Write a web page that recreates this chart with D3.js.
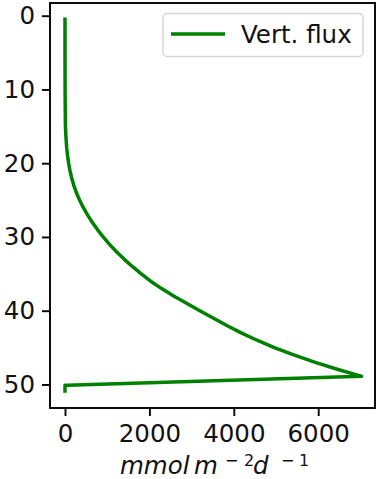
<!DOCTYPE html>
<html>
<head>
<meta charset="utf-8">
<script src="https://cdn.jsdelivr.net/npm/d3@7"></script>
<style>
  html, body { margin: 0; padding: 0; background: #fff; }
  svg { display: block; font-family: "DejaVu Sans", sans-serif; }
</style>
</head>
<body>
<svg id="chart" width="378" height="479"></svg>
<script>
// Depth (m) and vertical flux values
const depth = [0.5, 5, 10, 13, 15, 16, 17, 18, 19, 20, 21, 22, 23, 24, 25, 26, 27, 28, 29, 30, 31, 32, 33, 34, 35, 36, 37, 38, 39, 40, 41, 42, 43, 44, 45, 46, 47, 48, 48.9, 50.1, 50.1, 50.9];
const flux  = [0, 0, 2, 6, 10, 18, 28, 42, 61, 86, 118, 158, 208, 270, 345, 433, 533, 645, 769, 905, 1055, 1220, 1400, 1595, 1807, 2030, 2290, 2575, 2880, 3195, 3510, 3835, 4175, 4550, 4960, 5420, 5930, 6490, 7030, 60, 0, 0];
const xTicks = [0, 2000, 4000, 6000];
const yTicks = [0, 10, 20, 30, 40, 50];
const seriesName = "Vert. flux";

(function () {
const svg = d3.select("#chart");
const mLeft = 50, mRight = 375, mTop = 3, mBottom = 408;
const fs = "24.5px";

const x = d3.scaleLinear().domain([-355.5, 7346]).range([mLeft, mRight]);
const y = d3.scaleLinear().domain([-1.72, 53.19]).range([mTop, mBottom]);

const line = d3.line()
  .x((d, i) => x(flux[i]))
  .y((d, i) => y(depth[i]));

svg.append("path")
  .datum(depth)
  .attr("d", line)
  .attr("fill", "none")
  .attr("stroke", "#008000")
  .attr("stroke-width", 3.5)
  .attr("stroke-linejoin", "round")
  .attr("stroke-linecap", "square");

// axes
const xAxis = d3.axisBottom(x).tickValues(xTicks).tickSize(8).tickPadding(8).tickFormat(d3.format("d"));
const yAxis = d3.axisLeft(y).tickValues(yTicks).tickSize(8).tickPadding(8).tickFormat(d3.format("d"));

const gx = svg.append("g").attr("transform", `translate(0,${mBottom})`).call(xAxis);
const gy = svg.append("g").attr("transform", `translate(${mLeft},0)`).call(yAxis);
[gx, gy].forEach(g => {
  g.select(".domain").remove();
  g.selectAll(".tick line").attr("stroke", "#000").attr("stroke-width", 1.9);
  g.selectAll(".tick text").attr("fill", "#111").style("font-size", fs).style("font-family", "DejaVu Sans");
});
gx.selectAll(".tick text").attr("y", 17).attr("dy", "0.71em");
gy.selectAll(".tick text").attr("x", -15);

// frame
svg.append("rect")
  .attr("x", mLeft).attr("y", mTop)
  .attr("width", mRight - mLeft).attr("height", mBottom - mTop)
  .attr("fill", "none").attr("stroke", "#000").attr("stroke-width", 1.9);

// x label (mathtext-like)
const lab = svg.append("g").attr("fill", "#111");
const piece = (tx, ty, size, italic, s) => lab.append("text")
  .attr("x", tx).attr("y", ty)
  .style("font-size", size).style("font-style", italic ? "italic" : "normal")
  .text(s);
piece(120, 474, fs, true, "mmol");
piece(194, 474, fs, true, "m");
piece(225, 466, "16px", false, "\u2212");
piece(244, 466, "16px", false, "2");
piece(253, 474, fs, true, "d");
piece(281, 466, "16px", false, "\u2212");
piece(299, 466, "16px", false, "1");

// legend
const lg = svg.append("g");
lg.append("rect")
  .attr("x", 163).attr("y", 13.5).attr("width", 200).attr("height", 43)
  .attr("rx", 4).attr("fill", "#fff").attr("fill-opacity", 0.8)
  .attr("stroke", "#d6d6d6").attr("stroke-width", 1.5);
lg.append("line")
  .attr("x1", 171).attr("x2", 225).attr("y1", 34).attr("y2", 34)
  .attr("stroke", "#008000").attr("stroke-width", 3.5);
lg.append("text")
  .attr("x", 241).attr("y", 34).attr("dy", "0.35em")
  .style("font-size", fs).attr("fill", "#111").text(seriesName);
})();
</script>
</body>
</html>
